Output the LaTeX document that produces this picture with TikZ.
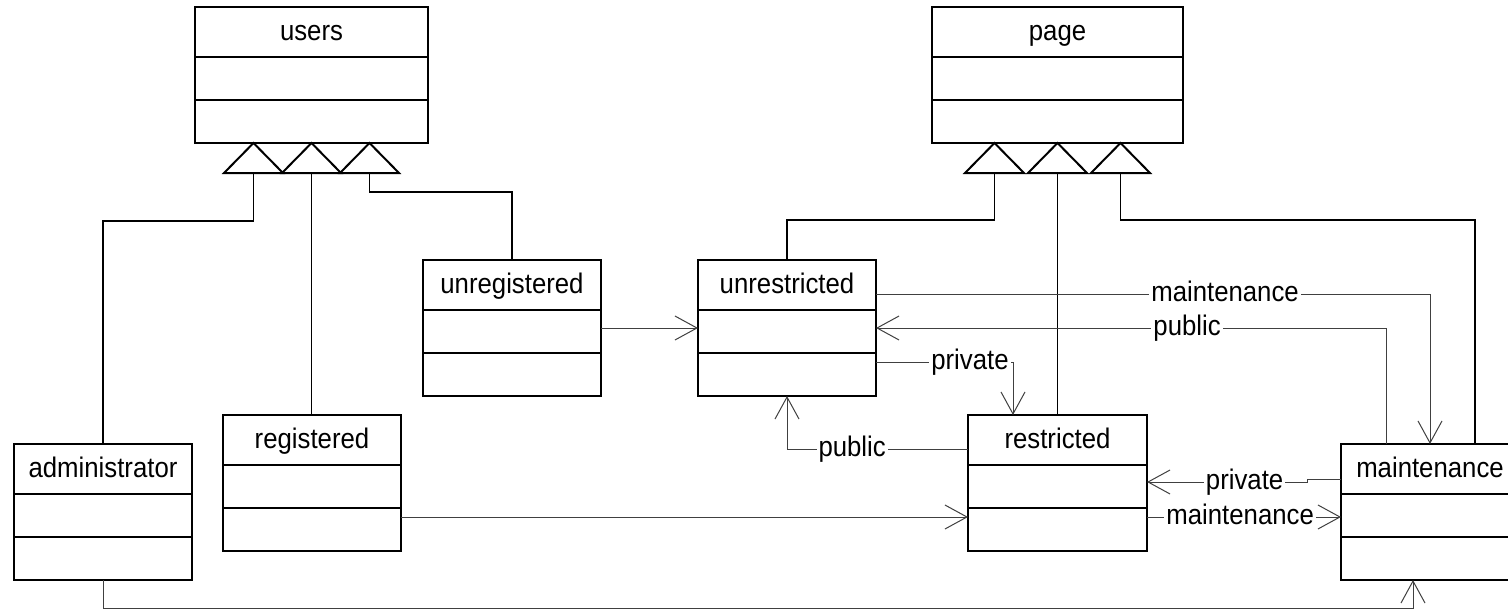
\documentclass[tikz,border=0pt]{standalone}
\usepackage{fontspec}
\setmainfont{Liberation Sans}
\newfontfamily\diagfont[FakeStretch=0.91]{Liberation Sans}
\usetikzlibrary{arrows.meta,calc}
\newcommand\umlclass[6]{%
  \node[classbox, minimum width=#4pt] (#1) at (#2,#3) {};
  \node[ctitle] (#1-t) at ($(#1.north)+(0,33.5)$) {#6};
  \draw[sepline] ($(#1.north west)+(0,50)$) -- ($(#1.north east)+(0,50)$);
  \draw[sepline] ($(#1.north west)+(0,93)$) -- ($(#1.north east)+(0,93)$);
}
\begin{document}
\begin{tikzpicture}[x=1pt,y=-1pt,
  classbox/.style={draw, line width=2pt, anchor=north west, minimum height=136pt, inner sep=0pt, outer sep=0pt},
  ctitle/.style={font=\diagfont\fontsize{28.3}{32}\selectfont, anchor=base, inner sep=0pt},
  sepline/.style={line width=2pt},
  gentri/.style={line width=2pt, line join=miter, fill=white},
  genline/.style={line width=1.4pt},
  assoc/.style={draw=black!75, line width=1pt, -{Straight Barb[length=22pt,width=24pt]}},
  lab/.style={fill=white, inner xsep=2pt, inner ysep=1pt, font=\diagfont\fontsize{28.3}{32}\selectfont, anchor=base, yshift=-7.5pt, text=black}]
\useasboundingbox (0,0) rectangle (1508,610);
\clip (0,0) rectangle (1508,610);
\fill[white] (0,0) rectangle (1508,610);

% classes
\umlclass{users}{195}{7}{233}{136}{users}
\umlclass{page}{932}{7}{251}{136}{page}
\umlclass{unreg}{423}{260}{178}{136}{unregistered}
\umlclass{unres}{698}{260}{178}{136}{unrestricted}
\umlclass{reg}{223}{415}{178}{136}{registered}
\umlclass{restr}{968}{415}{179}{136}{restricted}
\umlclass{adm}{14}{444}{178}{136}{administrator}
\umlclass{maint}{1341}{444}{178}{136}{maintenance}

% generalization triangles
\foreach \dx [count=\i] in {-58,0,58} {
  \coordinate (ua\i) at ($(users.south)+(\dx,0)$);
  \coordinate (ub\i) at ($(ua\i)+(0,30)$);
  \draw[gentri] ($(ua\i)+(-29.5,30)$) -- (ua\i) -- ($(ua\i)+(29.5,30)$) -- cycle;
}
\foreach \dx [count=\i] in {-63,0,63} {
  \coordinate (pa\i) at ($(page.south)+(\dx,0)$);
  \coordinate (pb\i) at ($(pa\i)+(0,30)$);
  \draw[gentri] ($(pa\i)+(-29.5,30)$) -- (pa\i) -- ($(pa\i)+(29.5,30)$) -- cycle;
}

% generalization lines
\draw[genline] (ub1) -- ++(0,48) -| (adm.north);
\draw[genline] (ub2) -- (ub2 |- reg.north);
\draw[genline] (ub3) -- ++(0,19) -| (unreg.north);
\draw[genline] (pb1) -- ++(0,47) -| (unres.north);
\draw[genline] (pb2) -- (pb2 |- restr.north);
\draw[genline] (pb3) -- ++(0,47) -| ($(maint.north west)+(134,0)$);

% associations
\draw[assoc] (unreg.east) -- (unres.west);
\coordinate (r1) at ($(reg.north east)+(0,102)$);
\draw[assoc] (r1) -- (r1 -| restr.west);
\draw[assoc] (adm.south) -- ++(0,28) -| ($(maint.south west)+(72,0)$);
\draw[assoc] ($(unres.north east)+(0,34)$) -| node[lab,pos=0.315]{maintenance} (maint.north);
\draw[assoc] ($(maint.north west)+(45,0)$) |- node[lab,pos=0.695]{public} (unres.east);
\draw[assoc] ($(unres.north east)+(0,102)$) -| node[lab,pos=0.343]{private} ($(restr.north west)+(45,0)$);
\draw[assoc] ($(restr.north west)+(0,34)$) -| node[lab,pos=0.32]{public} (unres.south);
\coordinate (m1) at ($(maint.north west)+(0,35)$);
\coordinate (m2) at ($(m1)+(-34,0)$);
\coordinate (m3) at ($(m2)+(0,3)$);
\draw[assoc] (m1) -- (m2) -- (m3) -- node[lab,pos=0.39]{private} (m3 -| restr.east);
\coordinate (r2) at ($(restr.north east)+(0,102)$);
\draw[assoc] (r2) -- node[lab,pos=0.48]{maintenance} (r2 -| maint.west);
\end{tikzpicture}
\end{document}
